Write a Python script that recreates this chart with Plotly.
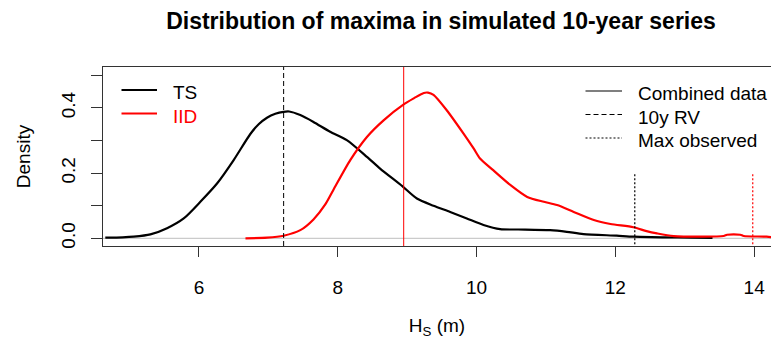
import plotly.graph_objects as go

# Density of 10-year maxima of significant wave height, two simulation schemes
ts_x = [4.65, 4.90, 5.06, 5.30, 5.54, 5.78, 6.02, 6.26, 6.50, 6.74, 6.86, 6.98, 7.10, 7.22,
        7.30, 7.46, 7.65, 7.89, 8.13, 8.42, 8.61, 8.93, 9.14, 9.38, 9.62, 9.86, 10.10, 10.34,
        10.60, 11.06, 11.30, 11.54, 12.02, 12.26, 12.70, 13.10, 13.40]
ts_y = [0.002, 0.003, 0.005, 0.012, 0.031, 0.061, 0.112, 0.168, 0.240, 0.320, 0.350, 0.370,
        0.382, 0.388, 0.389, 0.378, 0.357, 0.327, 0.301, 0.250, 0.214, 0.160, 0.122, 0.100,
        0.081, 0.061, 0.041, 0.028, 0.027, 0.025, 0.020, 0.013, 0.008, 0.005, 0.003, 0.002,
        0.001]

iid_x = [6.67, 6.98, 7.22, 7.46, 7.65, 7.82, 7.94, 8.18, 8.42, 8.66, 8.95, 9.10, 9.24, 9.30,
         9.38, 9.57, 9.81, 9.96, 10.05, 10.24, 10.49, 10.73, 10.97, 11.16, 11.40, 11.69,
         11.93, 12.26, 12.45, 12.60, 12.84, 13.56, 13.61, 13.80, 13.85, 14.18, 14.30]
iid_y = [0.000, 0.002, 0.008, 0.025, 0.058, 0.104, 0.150, 0.240, 0.311, 0.362, 0.411, 0.430,
         0.446, 0.447, 0.440, 0.393, 0.322, 0.275, 0.245, 0.209, 0.163, 0.127, 0.112, 0.102,
         0.081, 0.056, 0.044, 0.034, 0.022, 0.015, 0.007, 0.007, 0.011, 0.011, 0.007, 0.005,
         0.002]

# Reference levels
rv_ts = 7.22        # 10-year return value, combined data (TS)
rv_iid = 8.95       # 10-year return value, IID
max_ts = 12.28      # largest observed value, TS
max_iid = 13.98     # largest observed value, IID
max_mark_top = 0.2

x_ticks = [6, 8, 10, 12, 14]
y_ticks = [0.0, 0.2, 0.4]
y_tick_text = ["0.0", "0.2", "0.4"]

series_names = ["TS", "IID"]
series_colors = ["black", "#ff0000"]
key_names = ["Combined data", "10y RV", "Max observed"]
key_dashes = ["solid", "5px,3px", "2px,2px"]

FONT = "Liberation Sans, Arial, sans-serif"
BASE = 19

# plot area in pixels
L, T, W, H = 103, 67, 668, 179


def px(xp):
    return (xp - L) / W


def py(yp):
    return (T + H - yp) / H


fig = go.Figure()

for xs, ys, name, col in [(ts_x, ts_y, series_names[0], series_colors[0]),
                          (iid_x, iid_y, series_names[1], series_colors[1])]:
    fig.add_trace(go.Scatter(x=xs, y=ys, mode="lines", name=name, showlegend=False,
                             line=dict(color=col, width=2.2, shape="spline", smoothing=0.7)))

# Zero line
fig.add_hline(y=0, line=dict(color="#bebebe", width=1), layer="below")

# Return values (full height) and observed maxima (short segments)
fig.add_vline(x=rv_ts, line=dict(color="black", width=1, dash="5px,3px"))
fig.add_vline(x=rv_iid, line=dict(color="#ff0000", width=1))
fig.add_shape(type="line", xref="x", yref="y", x0=max_ts, x1=max_ts, y0=-1, y1=max_mark_top,
              line=dict(color="black", width=1.2, dash="2px,2px"))
fig.add_shape(type="line", xref="x", yref="y", x0=max_iid, x1=max_iid, y0=-1, y1=max_mark_top,
              line=dict(color="#ff0000", width=1.2, dash="2px,2px"))

# Series key (top left)
for i, (name, col) in enumerate(zip(series_names, series_colors)):
    yl = 90 + 23.5 * i
    fig.add_shape(type="line", xref="paper", yref="paper", x0=px(121.5), x1=px(157),
                  y0=py(yl), y1=py(yl), line=dict(color=col, width=2.2))
    fig.add_annotation(xref="paper", yref="paper", x=px(170.5), y=py(yl + 2.5),
                       xanchor="left", yanchor="middle", showarrow=False, text=name,
                       font=dict(family=FONT, size=BASE, color=col))

# Line-style key (top right)
for i, (name, dash) in enumerate(zip(key_names, key_dashes)):
    yl = 91 + 23.5 * i
    fig.add_shape(type="line", xref="paper", yref="paper", x0=px(585.5), x1=px(622),
                  y0=py(yl), y1=py(yl), line=dict(color="black", width=1.2, dash=dash))
    fig.add_annotation(xref="paper", yref="paper", x=px(635.5), y=py(yl + 2.5),
                       xanchor="left", yanchor="middle", showarrow=False, text=name,
                       font=dict(family=FONT, size=BASE, color="black"))

fig.update_layout(
    width=771, height=339,
    margin=dict(l=L, r=771 - L - W, t=T, b=339 - T - H),
    paper_bgcolor="white", plot_bgcolor="white",
    font=dict(family=FONT, size=BASE, color="black"),
    title=dict(text="<b>Distribution of maxima in simulated 10-year series</b>",
               font=dict(family=FONT, size=23, color="black"),
               x=441 / 771, xanchor="center", y=1 - 21 / 339, yanchor="middle"),
    showlegend=False,
    xaxis=dict(range=[4.617, 14.243], tickvals=x_ticks, ticks="outside", ticklen=10,
               tickcolor="#333", showline=True, linecolor="#333", linewidth=1, mirror=True,
               showgrid=False, zeroline=False, ticklabelstandoff=14,
               tickfont=dict(family=FONT, size=BASE),
               title=dict(text="H<sub>S</sub> (m)", standoff=22,
                          font=dict(family=FONT, size=BASE))),
    yaxis=dict(range=[-0.0236, 0.5256], tickvals=y_ticks, ticktext=y_tick_text,
               ticks="outside", ticklen=11, tickcolor="#333", tickangle=-90,
               minor=dict(dtick=0.1, tick0=0, ticks="outside", ticklen=11, tickcolor="#333"),
               showline=True, linecolor="#333", linewidth=1, mirror=False,
               showgrid=False, zeroline=False, ticklabelstandoff=8,
               tickfont=dict(family=FONT, size=BASE),
               title=dict(text="Density", standoff=22, font=dict(family=FONT, size=BASE))),
)

fig.write_html("out.html")
